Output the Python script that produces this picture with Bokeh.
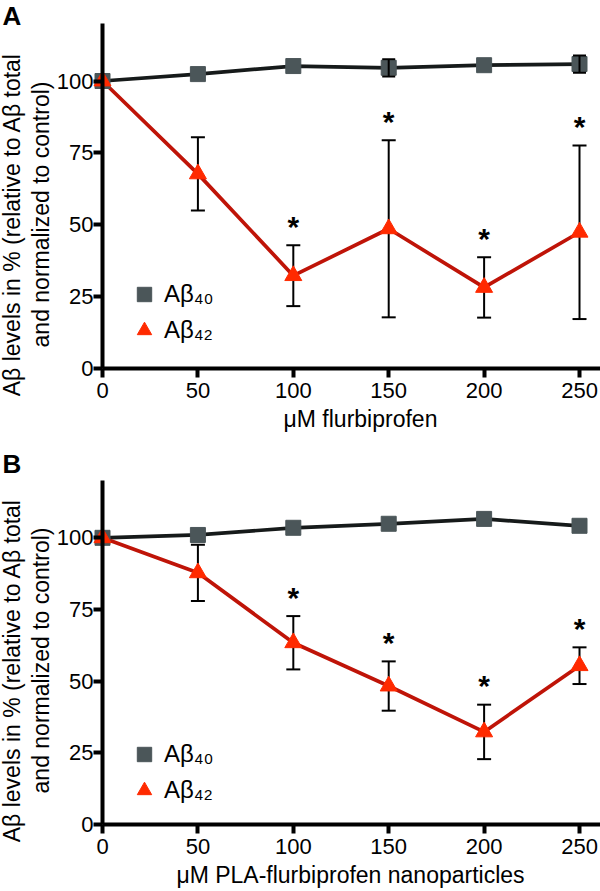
import math
from bokeh.plotting import figure
from bokeh.layouts import column
from bokeh.models import (Range1d, FixedTicker, Whisker, TeeHead, ColumnDataSource,
                          Label, Legend, LegendItem)
from bokeh.core.properties import value
from bokeh.embed import file_html
from bokeh.resources import INLINE

# ---------------- data ----------------
doses = [0, 50, 100, 150, 200, 250]
x_ticks = [0, 50, 100, 150, 200, 250]
y_ticks = [0, 25, 50, 75, 100]
series_labels = ["Aβ₄₀", "Aβ₄₂"]

# Panel A: free flurbiprofen
a40_A = [100, 102.4, 105.2, 104.6, 105.5, 105.9]
a40_A_err = [0, 0, 0, 3.0, 0, 3.0]
a42_A = [100, 67.7, 32.3, 48.6, 28.2, 47.4]
a42_A_err = [0, 12.7, 10.6, 30.8, 10.5, 30.2]
sig_A = [100, 150, 200, 250]

# Panel B: PLA-flurbiprofen nanoparticles
a40_B = [100, 101.0, 103.5, 104.9, 106.6, 104.2]
a40_B_err = [0, 0, 0, 0, 0, 0]
a42_B = [100, 87.8, 63.4, 48.3, 32.3, 55.4]
a42_B_err = [0, 9.8, 9.3, 8.6, 9.5, 6.4]
sig_B = [100, 150, 200, 250]

ylabel_1 = "Aβ levels in % (relative to Aβ total"
ylabel_2 = "and normalized to control)"
xlabel_A = "μM flurbiprofen"
xlabel_B = "μM PLA-flurbiprofen nanoparticles"

FONT = "Liberation Sans"
GRAY = "#4b5659"
LINE_BLACK = "#161a1a"
RED = "#ff2a00"
DARK_RED = "#bf1408"

X_VIEW = (-53.46, 261.0)   # visible x extent (figure spans the whole width)
X_AXIS_END = 261.0


def err_source(xs, ys, errs):
    xx, up, lo = [], [], []
    for x, y, e in zip(xs, ys, errs):
        if e > 0:
            xx.append(x)
            up.append(y + e)
            lo.append(y - e)
    return ColumnDataSource(dict(x=xx, upper=up, lower=lo))


def make_panel(letter, a40, a40_err, a42, a42_err, sig, xlabel, height, y_view,
               letter_y, ylab_y1, ylab_y2, xlab_x, xlab_y, leg_y):
    p = figure(width=600, height=height,
               x_range=Range1d(*X_VIEW), y_range=Range1d(*y_view),
               output_backend="svg", toolbar_location=None,
               min_border_left=0, min_border_right=0,
               min_border_top=0, min_border_bottom=0,
               title=None)
    p.outline_line_color = None
    p.xgrid.visible = False
    p.ygrid.visible = False
    p.background_fill_color = "white"

    # lines
    p.line(doses, a40, line_color=LINE_BLACK, line_width=3.7)
    p.line(doses, a42, line_color=DARK_RED, line_width=3.7)

    # error bars of Abeta42 (under markers)
    w42 = Whisker(source=err_source(doses, a42, a42_err), base="x", upper="upper", lower="lower",
                  line_color="black", line_width=2, level="underlay",
                  upper_head=TeeHead(size=14, line_width=2, line_color="black"),
                  lower_head=TeeHead(size=14, line_width=2, line_color="black"))
    p.add_layout(w42)

    sq = p.scatter(doses, a40, marker="square", size=15, fill_color=GRAY, line_color=GRAY)
    tri = p.scatter(doses, a42, marker="triangle", size=17, fill_color=RED, line_color=RED)

    # error bars of Abeta40 (over markers)
    src40 = err_source(doses, a40, a40_err)
    if len(src40.data["x"]) > 0:
        w40 = Whisker(source=src40, base="x", upper="upper", lower="lower",
                      line_color="black", line_width=2, level="overlay",
                      upper_head=TeeHead(size=13, line_width=2, line_color="black"),
                      lower_head=TeeHead(size=13, line_width=2, line_color="black"))
        p.add_layout(w40)

    # significance asterisks
    sx, sy = [], []
    for x, y, e in zip(doses, a42, a42_err):
        if x in sig:
            sx.append(x)
            sy.append(y + e)
    p.text(x=sx, y=sy, text=["*"] * len(sx), text_font=value(FONT), text_font_style="bold",
           text_font_size="30px", text_align="center", text_baseline="alphabetic",
           text_color="black", y_offset=-19)

    # axes
    for ax in (p.xaxis[0], p.yaxis[0]):
        ax.axis_line_width = 4
        ax.axis_line_color = "black"
        ax.major_tick_line_width = 4
        ax.major_tick_line_color = "black"
        ax.major_tick_out = 9
        ax.major_tick_in = 0
        ax.minor_tick_line_color = None
        ax.major_label_text_font = FONT
        ax.major_label_text_font_size = "22px"
        ax.major_label_text_color = "black"
    p.xaxis[0].ticker = FixedTicker(ticks=x_ticks)
    p.yaxis[0].ticker = FixedTicker(ticks=y_ticks)
    p.xaxis[0].bounds = (0, X_AXIS_END)
    p.yaxis[0].bounds = (0, 120)
    p.yaxis[0].fixed_location = 0
    p.xaxis[0].fixed_location = 0
    p.xaxis[0].major_label_standoff = 5
    p.yaxis[0].major_label_standoff = 0

    # legend
    legend = Legend(items=[LegendItem(label=series_labels[0], renderers=[sq]),
                           LegendItem(label=series_labels[1], renderers=[tri])],
                    location=(126, leg_y), glyph_width=36, glyph_height=36,
                    label_standoff=2, padding=0, margin=0, spacing=0,
                    background_fill_alpha=0, border_line_alpha=0,
                    label_text_font=FONT, label_text_font_size="24px",
                    label_text_color="black")
    p.add_layout(legend)

    # panel letter & axis titles
    p.add_layout(Label(x=2, y=letter_y, x_units="screen", y_units="screen", text=letter,
                       text_font=FONT, text_font_size="26px", text_font_style="bold",
                       text_align="left", text_baseline="top", text_color="black"))
    p.add_layout(Label(x=11, y=ylab_y1, x_units="screen", y_units="screen", text=ylabel_1,
                       angle=math.pi / 2, text_font=FONT, text_font_size="23px",
                       text_align="center", text_baseline="middle", text_color="black"))
    p.add_layout(Label(x=40, y=ylab_y2, x_units="screen", y_units="screen", text=ylabel_2,
                       angle=math.pi / 2, text_font=FONT, text_font_size="23px",
                       text_align="center", text_baseline="middle", text_color="black"))
    p.add_layout(Label(x=xlab_x, y=xlab_y, x_units="screen", y_units="screen", text=xlabel,
                       text_font=FONT, text_font_size="23px",
                       text_align="center", text_baseline="alphabetic", text_color="black"))
    return p


pA = make_panel("A", a40_A, a40_A_err, a42_A, a42_A_err, sig_A, xlabel_A, 440,
                y_view=(-25.04, 128.0), letter_y=440, ylab_y1=216, ylab_y2=226,
                xlab_x=360, xlab_y=22, leg_y=92)
pB = make_panel("B", a40_B, a40_B_err, a42_B, a42_B_err, sig_B, xlabel_B, 451,
                y_view=(-23.37, 133.95), letter_y=443, ylab_y1=221, ylab_y2=231,
                xlab_x=350, xlab_y=17, leg_y=83)

layout = column(pA, pB, spacing=0)
open("out.html", "w").write(file_html(layout, INLINE))
